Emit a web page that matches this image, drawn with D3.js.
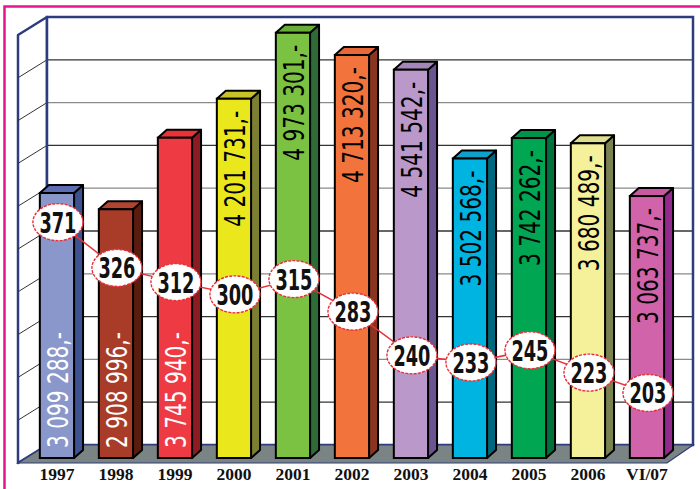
<!DOCTYPE html>
<html>
<head>
<meta charset="utf-8">
<script src="https://cdn.jsdelivr.net/npm/d3@7"></script>
<style>
  html, body { margin: 0; padding: 0; background: #fff; }
  svg { display: block; }
</style>
</head>
<body>
<div id="chart"></div>
<script>
// DATA
var years = ['1997', '1998', '1999', '2000', '2001', '2002', '2003', '2004', '2005', '2006', 'VI/07']
var amounts = [3099288, 2908996, 3745940, 4201731, 4973301, 4713320, 4541542, 3502568, 3742262, 3680489, 3063737]
var amountLabels = ['3 099 288,-', '2 908 996,-', '3 745 940,-', '4 201 731,-', '4 973 301,-', '4 713 320,-',
  '4 541 542,-', '3 502 568,-', '3 742 262,-', '3 680 489,-', '3 063 737,-']
var counts = [371, 326, 312, 300, 315, 283, 240, 233, 245, 223, 203]

// COLOURS (front, side, top)
var frontColors = ['#8a97ca', '#a83c28', '#ee3a42', '#eae81c', '#7cc242', '#f2733c', '#ba98ca', '#00b4e2', '#00a651', '#f4f19a', '#d163aa']
var sideColors = ['#3d5290', '#5a1c0e', '#8c1c22', '#7c7e32', '#2f6b37', '#8a3520', '#6a5592', '#00687e', '#00703c', '#7a8250', '#93298d']
var topColors = ['#5c6db2', '#b24530', '#e83238', '#c8c228', '#6aae3a', '#e8683a', '#a486ba', '#10a0cc', '#009448', '#dede8e', '#c858a2']

var W = 700, H = 489

var svg = d3.select('#chart')
  .append('svg')
  .attr('width', W)
  .attr('height', H)

// SCALES
var x = d3.scaleBand().domain(years).range([18, 667])
var bw = x.bandwidth()
var y = d3.scaleLinear().domain([0, 5000000]).range([458, 30.5])   // front plane of bars
var yWall = d3.scaleLinear().domain([0, 5000000]).range([445, 17])  // back wall
var y2 = d3.scaleLinear().domain([200, 380]).range([396, 213])      // counts line

var wallDX = 29, wallDY = 18
var barDX = 9, barDY = 8
var barW = bw * 0.58
function barLeft(d) { return x(d) + bw * 0.37 }
function barCenter(d) { return barLeft(d) + barW / 2 }

// PINK FRAME
svg.append('rect')
  .attr('x', 4.5).attr('y', 6.5)
  .attr('width', 720).attr('height', 520)
  .attr('fill', 'none')
  .attr('stroke', '#e8168c')
  .attr('stroke-width', 2.5)

// LEFT WALL
var x0 = 18, xb = x0 + wallDX
svg.append('path')
  .attr('d', 'M' + x0 + ',' + (yWall(5000000) + wallDY) + 'L' + xb + ',' + yWall(5000000) +
    'L' + xb + ',' + yWall(0) + 'L' + x0 + ',' + (yWall(0) + wallDY) + 'Z')
  .attr('fill', '#fff')
  .attr('stroke', '#2d3c7c')
  .attr('stroke-width', 2.5)
  .attr('stroke-linejoin', 'round')

// BACK WALL
svg.append('rect')
  .attr('x', xb).attr('y', yWall(5000000))
  .attr('width', 693 - xb).attr('height', yWall(0) - yWall(5000000))
  .attr('fill', '#fff')

var ticks = d3.range(500000, 5000000, 500000)
svg.selectAll('line.grid')
  .data(ticks)
  .enter()
  .append('line')
  .attr('class', 'grid')
  .attr('x1', xb).attr('x2', 693)
  .attr('y1', function(d) { return yWall(d) })
  .attr('y2', function(d) { return yWall(d) })
  .attr('stroke', function(d, i) { return i % 2 ? '#8a8a8a' : '#333' })
  .attr('stroke-width', 1.3)

svg.selectAll('line.sidegrid')
  .data(ticks)
  .enter()
  .append('line')
  .attr('class', 'sidegrid')
  .attr('x1', xb).attr('x2', x0)
  .attr('y1', function(d) { return yWall(d) })
  .attr('y2', function(d) { return yWall(d) + wallDY })
  .attr('stroke', '#333')
  .attr('stroke-width', 1)

svg.append('rect')
  .attr('x', xb).attr('y', yWall(5000000))
  .attr('width', 693 - xb).attr('height', yWall(0) - yWall(5000000))
  .attr('fill', 'none')
  .attr('stroke', '#2d3c7c')
  .attr('stroke-width', 2.5)

// FLOOR
svg.append('path')
  .attr('d', 'M' + x0 + ',' + (yWall(0) + wallDY) + 'L667,' + (yWall(0) + wallDY) +
    'L693,' + yWall(0) + 'L' + xb + ',' + yWall(0) + 'Z')
  .attr('fill', '#7b8484')
  .attr('stroke', '#2d3c7c')
  .attr('stroke-width', 1.2)

// BARS
var bars = svg.selectAll('g.bar')
  .data(years)
  .enter()
  .append('g')
  .attr('class', 'bar')

bars.append('path')   // side
  .attr('d', function(d, i) {
    var l = barLeft(d) + barW, t = y(amounts[i]), b = y(0)
    return 'M' + l + ',' + t + 'L' + (l + barDX) + ',' + (t - barDY) + 'L' + (l + barDX) + ',' + (b - barDY) + 'L' + l + ',' + b + 'Z'
  })
  .attr('fill', function(d, i) { return sideColors[i] })
  .attr('stroke', '#000').attr('stroke-width', 2).attr('stroke-linejoin', 'round')

bars.append('path')   // top
  .attr('d', function(d, i) {
    var l = barLeft(d), t = y(amounts[i])
    return 'M' + l + ',' + t + 'L' + (l + barDX) + ',' + (t - barDY) + 'L' + (l + barW + barDX) + ',' + (t - barDY) + 'L' + (l + barW) + ',' + t + 'Z'
  })
  .attr('fill', function(d, i) { return topColors[i] })
  .attr('stroke', '#000').attr('stroke-width', 2).attr('stroke-linejoin', 'round')

bars.append('rect')   // front
  .attr('x', function(d) { return barLeft(d) })
  .attr('y', function(d, i) { return y(amounts[i]) })
  .attr('width', barW)
  .attr('height', function(d, i) { return y(0) - y(amounts[i]) })
  .attr('fill', function(d, i) { return frontColors[i] })
  .attr('stroke', '#000').attr('stroke-width', 2)

// AMOUNT LABELS
bars.append('text')
  .attr('transform', function(d, i) {
    var py = i < 3 ? y(0) - 10 : y(amounts[i]) + 12
    return 'translate(' + (barCenter(d) + 11) + ',' + py + ') rotate(-90)'
  })
  .attr('text-anchor', function(d, i) { return i < 3 ? 'start' : 'end' })
  .attr('font-family', '"DejaVu Sans Condensed", "DejaVu Sans", sans-serif')
  .attr('font-size', 29)
  .attr('textLength', 116)
  .attr('lengthAdjust', 'spacingAndGlyphs')
  .attr('fill', function(d, i) { return i < 3 ? '#fff' : '#000' })
  .text(function(d, i) { return amountLabels[i] })

// COUNT LINE
var line = d3.line()
  .x(function(d, i) { return barCenter(years[i]) + 1 })
  .y(function(d) { return y2(d) })

svg.append('path')
  .datum(counts)
  .attr('d', line)
  .attr('fill', 'none')
  .attr('stroke', '#e8303a')
  .attr('stroke-width', 1.5)

var marks = svg.selectAll('g.mark')
  .data(counts)
  .enter()
  .append('g')
  .attr('class', 'mark')
  .attr('transform', function(d, i) { return 'translate(' + (barCenter(years[i]) + 1) + ',' + y2(d) + ')' })

marks.append('ellipse')
  .attr('rx', 25).attr('ry', 18.5)
  .attr('fill', '#fff')
  .attr('stroke', '#e8303a')
  .attr('stroke-width', 1.4)
  .attr('stroke-dasharray', '3,1.2')

marks.append('text')
  .attr('y', 10.5)
  .attr('text-anchor', 'middle')
  .attr('font-family', '"DejaVu Sans Condensed", "DejaVu Sans", sans-serif')
  .attr('font-weight', 'bold')
  .attr('font-size', 29)
  .attr('textLength', 37)
  .attr('lengthAdjust', 'spacingAndGlyphs')
  .attr('fill', '#111')
  .text(function(d) { return d })

// X-AXIS
var xAxis = svg.append('g')
  .attr('transform', 'translate(' + (bw * 0.16) + ',' + (yWall(0) + wallDY) + ')')
  .call(d3.axisBottom(x).tickSize(0).tickPadding(5))

xAxis.select('.domain').remove()
xAxis.selectAll('text')
  .attr('font-family', '"Liberation Serif", "DejaVu Serif", serif')
  .attr('font-weight', 'bold')
  .attr('font-size', 17.5)
  .attr('fill', '#111')
</script>
</body>
</html>
